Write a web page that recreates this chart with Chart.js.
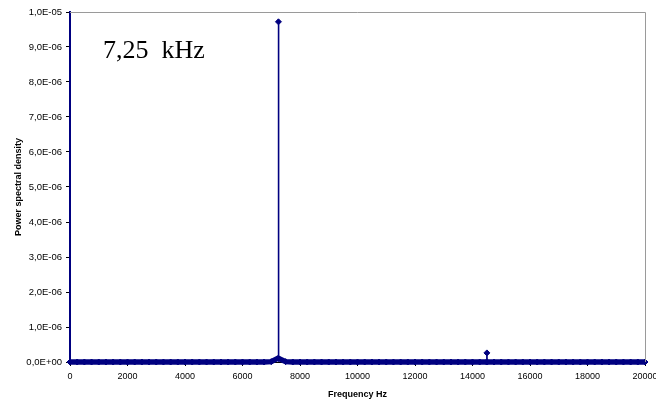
<!DOCTYPE html>
<html>
<head>
<meta charset="utf-8">
<script src="https://cdn.jsdelivr.net/npm/chart.js@4"></script>
<style>
  html, body { margin: 0; padding: 0; background: #fff; }
  #wrap { position: relative; width: 656px; height: 400px; }
</style>
</head>
<body>
<div id="wrap"><canvas id="psd"></canvas></div>
<script>
// frequency bins (Hz) and power spectral density
const freqHz = [
    0, 250, 500, 750, 1000, 1250, 1500, 1750, 2000, 2250, 2500, 2750, 3000, 3250, 3500, 3750,
    4000, 4250, 4500, 4750, 5000, 5250, 5500, 5750, 6000, 6250, 6500, 6750, 7000,
    7240, 7250, 7260,
    7500, 7750, 8000, 8250, 8500, 8750, 9000, 9250, 9500, 9750, 10000, 10250, 10500, 10750,
    11000, 11250, 11500, 11750, 12000, 12250, 12500, 12750, 13000, 13250, 13500, 13750, 14000, 14250,
    14490, 14500, 14510,
    14750, 15000, 15250, 15500, 15750, 16000, 16250, 16500, 16750, 17000, 17250, 17500, 17750,
    18000, 18250, 18500, 18750, 19000, 19250, 19500, 19750, 20000
]
const psd = [
    0, 0, 0, 0, 0, 0, 0, 0, 0, 0, 0, 0, 0, 0, 0, 0,
    0, 0, 0, 0, 0, 0, 0, 0, 0, 0, 0, 0, 1e-8,
    1.1e-7, 9.72e-6, 1.0e-7,
    1e-8, 0, 0, 0, 0, 0, 0, 0, 0, 0, 0, 0, 0, 0,
    0, 0, 0, 0, 0, 0, 0, 0, 0, 0, 0, 0, 0, 0,
    0, 2.6e-7, 0,
    0, 0, 0, 0, 0, 0, 0, 0, 0, 0, 0, 0, 0,
    0, 0, 0, 0, 0, 0, 0, 0, 0
]
const xRange = [0, 20000, 2000]
const yRange = [0, 1e-5, 1e-6]
const peakLabel = { text: '7,25  kHz', f: 1150, p: 8.7e-6 }

const navy = '#000080'
const font = 'Liberation Sans, Arial, sans-serif'

// Excel style scientific labels: 1,0E-05
function sci(v) {
    if (v === 0) return '0,0E+00'
    let e = Math.floor(Math.log10(v) + 1e-9)
    let m = v / Math.pow(10, e)
    let s = Math.abs(e) < 10 ? '0' + Math.abs(e) : '' + Math.abs(e)
    return m.toFixed(1).replace('.', ',') + 'E' + (e < 0 ? '-' : '+') + s
}

const frame = {
    id: 'frame',
    afterDraw(chart) {
        const { ctx, chartArea: a, scales } = chart
        ctx.save()
        ctx.strokeStyle = '#9a9a9a'
        ctx.lineWidth = 1
        ctx.beginPath()
        ctx.moveTo(a.left, a.top + 0.5)
        ctx.lineTo(a.right + 0.5, a.top + 0.5)
        ctx.lineTo(a.right + 0.5, a.bottom)
        ctx.stroke()
        ctx.fillStyle = '#000'
        ctx.font = '26px "Liberation Serif", "Times New Roman", serif'
        ctx.textBaseline = 'alphabetic'
        ctx.fillText(peakLabel.text, scales.x.getPixelForValue(peakLabel.f), scales.y.getPixelForValue(peakLabel.p))
        ctx.restore()
    }
}

const chart_psd = document.getElementById('psd')
new Chart(chart_psd, {
    type: 'line',
    data: {
        datasets: [{
            data: freqHz.map((f, i) => ({ x: f, y: psd[i] })),
            borderColor: navy,
            backgroundColor: navy,
            borderWidth: 2,
            pointStyle: 'rectRot',
            pointRadius: 3,
            pointBorderWidth: 1,
            pointBackgroundColor: navy,
            pointBorderColor: navy,
            tension: 0,
            clip: false,
            segment: {
                borderWidth: c => (c.p0.parsed.y < 2e-7 && c.p1.parsed.y < 2e-7) ? 5.5 : 1.6
            }
        }]
    },
    plugins: [frame],
    options: {
        responsive: true,
        maintainAspectRatio: false,
        animation: false,
        events: [],
        layout: { autoPadding: false, padding: { top: 12, right: 11, left: 0, bottom: 0 } },
        plugins: { legend: { display: false }, tooltip: { enabled: false } },
        scales: {
            x: {
                type: 'linear',
                min: xRange[0],
                max: xRange[1],
                afterFit: s => { s.height = 38; s.paddingLeft = 0; s.paddingRight = 0 },
                ticks: {
                    stepSize: xRange[2],
                    color: '#000',
                    padding: 5,
                    maxRotation: 0,
                    font: { family: font, size: 9 },
                    callback: v => String(v)
                },
                grid: { drawOnChartArea: false, tickLength: 4, color: '#000' },
                border: { color: '#000', width: 1 },
                title: {
                    display: true,
                    text: 'Frequency Hz',
                    color: '#000',
                    font: { family: font, size: 9, weight: 'bold' },
                    padding: { top: 4, bottom: 0 }
                }
            },
            y: {
                min: yRange[0],
                max: yRange[1],
                afterFit: s => { s.width = 70; s.paddingTop = 0; s.paddingBottom = 0 },
                ticks: {
                    stepSize: yRange[2],
                    color: '#000',
                    padding: 4,
                    font: { family: font, size: 9.5 },
                    callback: v => sci(v)
                },
                grid: { drawOnChartArea: false, tickLength: 4, color: '#000' },
                border: { color: navy, width: 2 },
                title: {
                    display: true,
                    text: 'Power spectral density',
                    color: '#000',
                    font: { family: font, size: 9, weight: 'bold' },
                    padding: { top: 13, bottom: 0 }
                }
            }
        }
    }
})
</script>
</body>
</html>
